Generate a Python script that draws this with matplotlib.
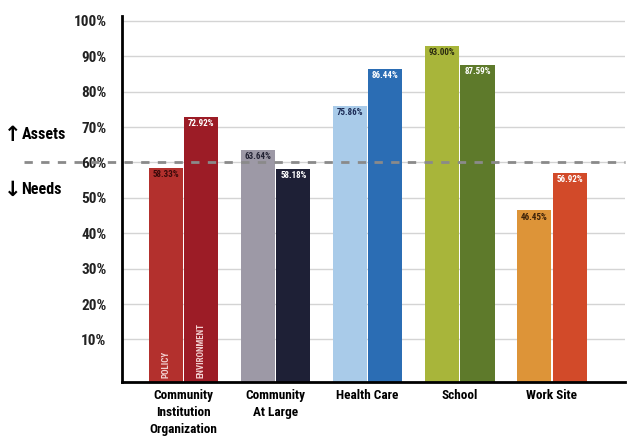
import matplotlib.pyplot as plt
import numpy as np
from matplotlib import font_manager

categories = ['Community\nInstitution\nOrganization', 'Community\nAt Large',
              'Health Care', 'School', 'Work Site']
policy = [58.33, 63.64, 75.86, 93.00, 46.45]
environment = [72.92, 58.18, 86.44, 87.59, 56.92]
policy_colors = ['#b3302d', '#9d99a6', '#a9cbe9', '#a8b53a', '#dd9438']
env_colors = ['#9c1c26', '#1e2036', '#2b6db4', '#5e7a2b', '#d24a29']
policy_text = ['#3a0a0a', '#222233', '#1b2a55', '#2a2a10', '#3a2008']
env_text = ['white', 'white', 'white', 'white', 'white']

names = {f.name for f in font_manager.fontManager.ttflist}
fam = 'DejaVu Sans'
for cand in ['Liberation Sans Narrow', 'DejaVu Sans Condensed', 'Roboto Condensed']:
    if cand in names:
        fam = cand
        break
plt.rcParams['font.family'] = [fam, 'DejaVu Sans']

fig = plt.figure(figsize=(6.28, 4.37), dpi=100)
ax = fig.add_axes([0.194, 0.126, 0.802, 0.8385])

x = np.arange(len(categories))
w = 0.37
ymin = -2
ax.set_xlim(-0.67, 4.8)
ax.set_ylim(ymin, 101.5)

# grid lines
for g in range(10, 101, 10):
    ax.axhline(g, color='#d4d4d4', lw=1, zorder=0)

ax.bar(x - w / 2 - 0.008, np.array(policy) - ymin, w, bottom=ymin,
       color=policy_colors, zorder=2)
ax.bar(x + w / 2 + 0.008, np.array(environment) - ymin, w, bottom=ymin,
       color=env_colors, zorder=2)

for i in range(len(x)):
    ax.text(x[i] - w / 2 - 0.008, policy[i] - 0.6, f'{policy[i]:.2f}%',
            ha='center', va='top', fontsize=6.5, fontweight='bold',
            color=policy_text[i], zorder=3)
    ax.text(x[i] + w / 2 + 0.008, environment[i] - 0.6, f'{environment[i]:.2f}%',
            ha='center', va='top', fontsize=6.5, fontweight='bold',
            color=env_text[i], zorder=3)

ax.text(x[0] - w / 2 - 0.008, -1, 'POLICY', rotation=90, ha='center', va='bottom',
        fontsize=6.5, fontweight='bold', color='#f3d0d0', zorder=3)
ax.text(x[0] + w / 2 + 0.008, -1, 'ENVIRONMENT', rotation=90, ha='center', va='bottom',
        fontsize=6.5, fontweight='bold', color='#f3d0d0', zorder=3)

# assets / needs threshold
ax.plot([-1.73, 4.8], [60, 60], ls=(0, (3, 3)), color='#8a8a8a', lw=2,
        clip_on=False, zorder=4)
fig.text(0.006, 0.69, '\u2191', fontsize=15, fontweight='bold', va='center',
         family='DejaVu Sans')
fig.text(0.034, 0.692, 'Assets', fontsize=11.5, fontweight='bold', va='center')
fig.text(0.006, 0.565, '\u2193', fontsize=15, fontweight='bold', va='center',
         family='DejaVu Sans')
fig.text(0.034, 0.567, 'Needs', fontsize=11.5, fontweight='bold', va='center')

ax.set_yticks(range(10, 101, 10))
ax.set_yticklabels([f'{v}%' for v in range(10, 101, 10)], fontsize=11,
                   fontweight='bold', color='#222222')
ax.set_xticks(x)
ax.set_xticklabels(categories, fontsize=9.5, fontweight='bold', va='top',
                   linespacing=1.4)
ax.tick_params(length=0, pad=5)
ax.tick_params(axis='y', pad=11)

for s in ['top', 'right']:
    ax.spines[s].set_visible(False)
ax.spines['left'].set_linewidth(2)
ax.spines['bottom'].set_linewidth(2)

fig.savefig('out.png', dpi=100)
